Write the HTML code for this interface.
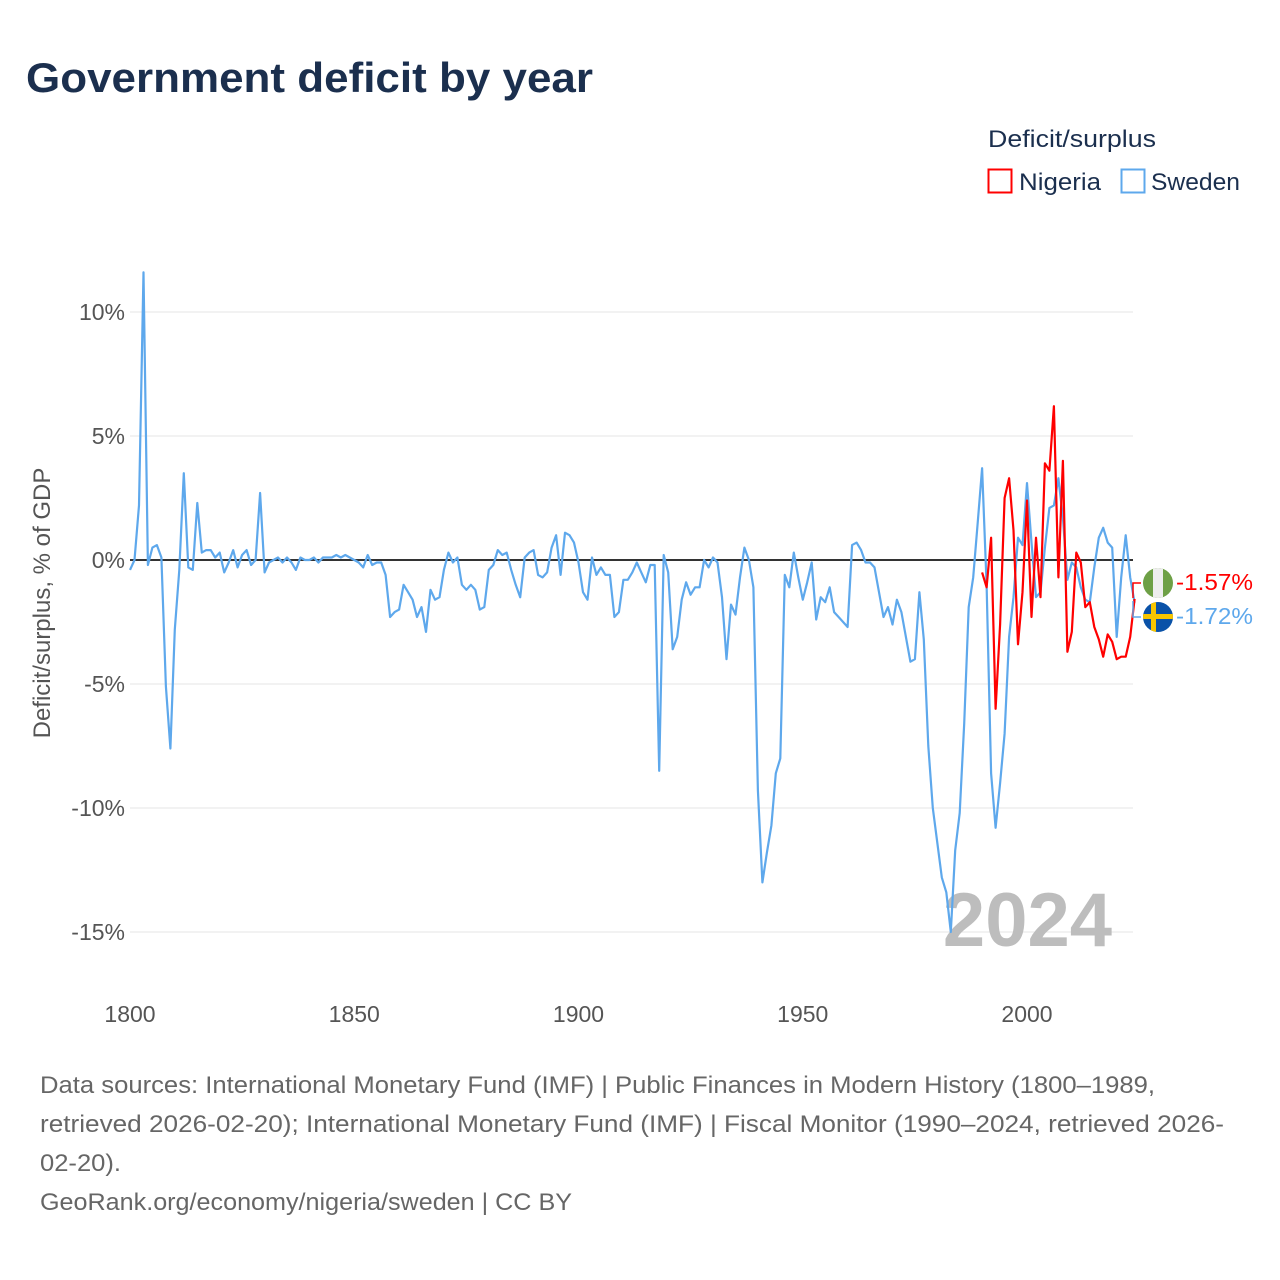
<!DOCTYPE html>
<html><head><meta charset="utf-8"><style>
body{margin:0;background:#fff;}
svg{display:block;font-family:"Liberation Sans",sans-serif;}
</style></head><body>
<svg id="chart" width="1280" height="1280" viewBox="0 0 1280 1280">
<text x="26" y="92" font-size="42" font-weight="bold" fill="#1b2f4e" textLength="567" lengthAdjust="spacingAndGlyphs">Government deficit by year</text>
<g>
<text x="988" y="147" font-size="24" fill="#1b2f4e" textLength="168" lengthAdjust="spacingAndGlyphs">Deficit/surplus</text>
<g><rect x="988.5" y="169.5" width="23" height="23" fill="none" stroke="#ff0000" stroke-width="2"/><text x="1019" y="190" font-size="24" fill="#1b2f4e" textLength="82" lengthAdjust="spacingAndGlyphs">Nigeria</text></g>
<g><rect x="1121.5" y="169.5" width="23" height="23" fill="none" stroke="#5ea8ec" stroke-width="2"/><text x="1151" y="190" font-size="24" fill="#1b2f4e" textLength="89" lengthAdjust="spacingAndGlyphs">Sweden</text></g>
</g>
<g id="grid"></g>
<g id="yticks"></g>
<g id="xticks"></g>
<text transform="translate(50,603) rotate(-90)" text-anchor="middle" font-size="24" fill="#555">Deficit/surplus, % of GDP</text>
<text x="1112" y="946" text-anchor="end" font-size="76" font-weight="bold" fill="#bdbdbd">2024</text>
<g id="series"></g>
<g>
<path d="M1133,598 V583 H1141" fill="none" stroke="#ff0000" stroke-width="1.5"/>
<path d="M1133,601 V617 H1141" fill="none" stroke="#5ea8ec" stroke-width="1.5"/>
<g><clipPath id="cn"><circle cx="1158" cy="583" r="15"/></clipPath><g clip-path="url(#cn)"><rect x="1143" y="568" width="30" height="30" fill="#6ea046"/><rect x="1153" y="568" width="10" height="30" fill="#eee"/></g></g>
<g><clipPath id="cs"><circle cx="1158" cy="617" r="15"/></clipPath><g clip-path="url(#cs)"><rect x="1143" y="602" width="30" height="30" fill="#0a52a8"/><rect x="1143" y="614" width="30" height="5" fill="#f7c600"/><rect x="1151" y="602" width="5" height="30" fill="#f7c600"/></g></g>
<text x="1176" y="590" font-size="23" fill="#ff0000" textLength="77" lengthAdjust="spacingAndGlyphs">-1.57%</text>
<text x="1176" y="624" font-size="23" fill="#5ea8ec" textLength="77" lengthAdjust="spacingAndGlyphs">-1.72%</text>
</g>
<g font-size="24" fill="#666">
<text x="40" y="1093" textLength="1115" lengthAdjust="spacingAndGlyphs">Data sources: International Monetary Fund (IMF) | Public Finances in Modern History (1800–1989,</text>
<text x="40" y="1132" textLength="1184" lengthAdjust="spacingAndGlyphs">retrieved 2026-02-20); International Monetary Fund (IMF) | Fiscal Monitor (1990–2024, retrieved 2026-</text>
<text x="40" y="1171" textLength="81" lengthAdjust="spacingAndGlyphs">02-20).</text>
<text x="40" y="1210" textLength="532" lengthAdjust="spacingAndGlyphs">GeoRank.org/economy/nigeria/sweden | CC BY</text>
</g>
</svg>
<script>
const yTickValues = [10, 5, 0, -5, -10, -15];
const xTickValues = [1800, 1850, 1900, 1950, 2000];
const swedenStart = 1800;
const swedenValues = [
-0.4,0,2.2,11.6,-0.2,0.5,0.6,0.1,-5.1,-7.6,
-2.8,-0.4,3.5,-0.3,-0.4,2.3,0.3,0.4,0.4,0.1,
0.3,-0.5,-0.1,0.4,-0.3,0.2,0.4,-0.2,0,2.7,
-0.5,-0.1,0,0.1,-0.1,0.1,-0.1,-0.4,0.1,0,
0,0.1,-0.1,0.1,0.1,0.1,0.2,0.1,0.2,0.1,
0,-0.1,-0.3,0.2,-0.2,-0.1,-0.1,-0.6,-2.3,-2.1,
-2.0,-1.0,-1.3,-1.6,-2.3,-1.9,-2.9,-1.2,-1.6,-1.5,
-0.4,0.3,-0.1,0.1,-1.0,-1.2,-1.0,-1.2,-2.0,-1.9,
-0.4,-0.2,0.4,0.2,0.3,-0.4,-1.0,-1.5,0.1,0.3,
0.4,-0.6,-0.7,-0.5,0.5,1.0,-0.6,1.1,1.0,0.7,
-0.1,-1.3,-1.6,0.1,-0.6,-0.3,-0.6,-0.6,-2.3,-2.1,
-0.8,-0.8,-0.5,-0.1,-0.5,-0.9,-0.2,-0.2,-8.5,0.2,
-0.5,-3.6,-3.1,-1.6,-0.9,-1.4,-1.1,-1.1,0,-0.3,
0.1,-0.1,-1.5,-4.0,-1.8,-2.2,-0.7,0.5,0,-1.1,
-9.3,-13.0,-11.8,-10.7,-8.6,-8.0,-0.6,-1.1,0.3,-0.7,
-1.6,-0.9,-0.1,-2.4,-1.5,-1.7,-1.1,-2.1,-2.3,-2.5,
-2.7,0.6,0.7,0.4,-0.1,-0.1,-0.3,-1.3,-2.3,-1.9,
-2.6,-1.6,-2.1,-3.1,-4.1,-4.0,-1.3,-3.2,-7.5,-10.0,
-11.4,-12.8,-13.4,-15.0,-11.7,-10.2,-6.6,-1.9,-0.7,1.5,
3.7,-1.0,-8.6,-10.8,-9.0,-7.0,-3.1,-1.5,0.9,0.6,
3.1,0.7,-1.5,-1.3,0.5,2.1,2.2,3.3,1.7,-0.8,
-0.1,-0.3,-1.1,-1.6,-1.7,-0.3,0.9,1.3,0.7,0.5,
-3.1,-0.7,1.0,-0.7,-1.72];
const nigeriaStart = 1990;
const nigeriaValues = [
-0.5,-1.1,0.9,-6.0,-2.6,2.5,3.3,1.2,-3.4,-1.3,
2.4,-2.3,0.9,-1.5,3.9,3.6,6.2,-0.7,4.0,-3.7,
-2.9,0.3,-0.1,-1.9,-1.7,-2.7,-3.2,-3.9,-3.0,-3.3,
-4.0,-3.9,-3.9,-3.1,-1.57];

const NS = "http://www.w3.org/2000/svg";
const X0 = 130, X1 = 1133, Y0 = 560, PXPCT = 24.8;
function xScale(year){ return X0 + (year - 1800) * (1027 - 130) / 200; }
function yScale(v){ return Y0 - v * PXPCT; }
function mk(tag, attrs){ const e = document.createElementNS(NS, tag); for (const k in attrs) e.setAttribute(k, attrs[k]); return e; }

const grid = document.getElementById('grid');
const yt = document.getElementById('yticks');
yTickValues.forEach(v => {
  const y = yScale(v);
  if (v !== 0) {
    const l = mk('line', {x1: X0, x2: X1, y1: y, y2: y, stroke: '#e6e6e6', 'stroke-width': 1});
    
    
    grid.appendChild(l);
  }
  const t = mk('text', {x: 125, y: y + 8, 'text-anchor': 'end', 'font-size': 23, fill: '#555'});
  t.textContent = v + '%';
  
  
  yt.appendChild(t);
});
const xt = document.getElementById('xticks');
xTickValues.forEach(v => {
  const t = mk('text', {x: xScale(v), y: 1022, 'text-anchor': 'middle', 'font-size': 23, fill: '#555'});
  t.textContent = v;
  
  
  xt.appendChild(t);
});

const series = document.getElementById('series');
const zero = mk('line', {x1: X0, x2: X1, y1: yScale(0), y2: yScale(0), stroke: '#333', 'stroke-width': 2});


series.appendChild(zero);

function pts(start, vals){ return vals.map((v, i) => xScale(start + i).toFixed(1) + ',' + yScale(v).toFixed(1)).join(' '); }
const sw = mk('polyline', {points: pts(swedenStart, swedenValues), fill: 'none', stroke: '#5ea8ec', 'stroke-width': 2.2, 'stroke-linejoin': 'round'});


series.appendChild(sw);
const ng = mk('polyline', {points: pts(nigeriaStart, nigeriaValues), fill: 'none', stroke: '#ff0000', 'stroke-width': 2.2, 'stroke-linejoin': 'round'});


series.appendChild(ng);
</script>
</body></html>
